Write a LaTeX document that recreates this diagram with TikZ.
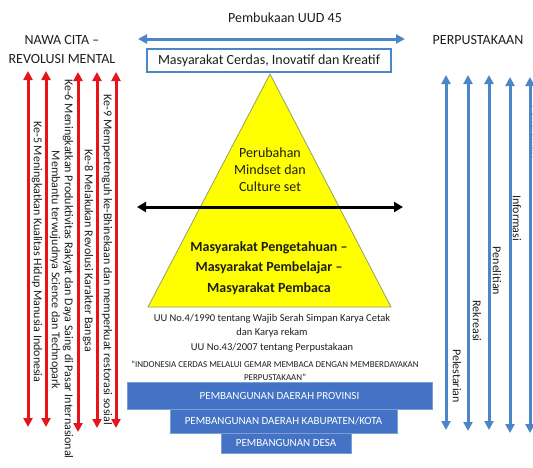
\documentclass[tikz,border=0pt]{standalone}
\usepackage{fontspec}
\setmainfont{Carlito}
\usetikzlibrary{arrows.meta}
\definecolor{redarrow}{RGB}{228,22,27}
\definecolor{bluearrow}{RGB}{74,134,200}
\definecolor{bluebox}{RGB}{68,114,196}
\definecolor{boxedge}{RGB}{120,160,215}
\definecolor{pyramid}{RGB}{255,255,0}
\definecolor{pyramidedge}{RGB}{150,160,100}
\definecolor{ink}{RGB}{30,30,30}
\tikzset{
  redlink/.style={draw=redarrow, line width=3pt, {Triangle[width=9pt,length=9pt]}-{Triangle[width=9pt,length=9pt]}},
  bluelink/.style={draw=bluearrow, line width=3pt, {Triangle[width=9pt,length=9pt]}-{Triangle[width=9pt,length=9pt]}},
  blacklink/.style={draw=black, line width=3pt, {Triangle[width=10pt,length=9pt]}-{Triangle[width=10pt,length=9pt]}},
  vlabel/.style={rotate=-90, font=\fontsize{12}{12}\selectfont, text=ink, inner sep=0pt},
  tier/.style={fill=bluebox, draw=boxedge, line width=0.6pt, text=white, font=\fontsize{11}{11}\selectfont, inner sep=0pt, anchor=north west},
  plain/.style={text=ink, inner sep=0pt},
}
\begin{document}
\begin{tikzpicture}[x=1pt, y=-1pt]
\useasboundingbox (0,0) rectangle (533,467);
\clip (0,0) rectangle (533,467);
\fill[white] (0,0) rectangle (533,467);

% headings
\node[plain, font=\fontsize{14}{14}\selectfont] (nawa1) at (62,40) {NAWA CITA –};
\node[plain, font=\fontsize{14}{14}\selectfont] (nawa2) at (62,59) {REVOLUSI MENTAL};
\node[plain, font=\fontsize{14}{14}\selectfont] (perpus) at (478,40) {PERPUSTAKAAN};
\node[plain, font=\fontsize{14}{14}\selectfont] (uud) at (285,18) {Pembukaan UUD 45};

% top double arrow
\coordinate (topL) at (138,39);
\coordinate (topR) at (405,39);
\draw[bluelink] (topL) -- (topR);

% goal box
\node[draw=bluearrow, line width=1.2pt, fill=white, minimum width=244pt, minimum height=23pt,
      inner sep=0pt, text=ink, font=\fontsize{14}{14}\selectfont] (goal) at (269,60.5)
  {Masyarakat Cerdas, Inovatif dan Kreatif};

% pyramid
\coordinate (apex) at (270,74);
\coordinate (baseL) at (148,307);
\coordinate (baseR) at (391,307);
\draw[fill=pyramid, draw=pyramidedge, line width=0.8pt] (apex) -- (baseL) -- (baseR) -- cycle;

\node[plain, font=\fontsize{14}{17}\selectfont, align=center] (mind) at (270,170)
  {Perubahan\\Mindset dan\\Culture set};
\node[plain, font=\bfseries\fontsize{14}{20.5}\selectfont, align=center] (soc) at (269,268)
  {Masyarakat Pengetahuan –\\Masyarakat Pembelajar –\\Masyarakat Pembaca};

% dividing double arrow
\coordinate (midL) at (137,207);
\coordinate (midR) at (403,207);
\draw[blacklink] (midL) -- (midR);

% legal basis text
\node[plain, font=\fontsize{10.5}{14.5}\selectfont, align=center] (law) at (272,333)
  {UU No.4/1990 tentang Wajib Serah Simpan Karya Cetak\\dan Karya rekam\\UU No.43/2007 tentang Perpustakaan};
\node[plain, font=\fontsize{9}{13}\selectfont, align=center] (motto) at (275,370.5)
  {“INDONESIA CERDAS MELALUI GEMAR MEMBACA DENGAN MEMBERDAYAKAN\\PERPUSTAKAAN”};

% development tiers
\node[tier, minimum width=305pt, minimum height=27pt] (prov) at (127,382) {};
\node[plain, text=white, font=\fontsize{11}{11}\selectfont] (provt) at (279.5,395.5) {PEMBANGUNAN DAERAH PROVINSI};
\node[tier, minimum width=227pt, minimum height=24pt] (kab) at (170,409) {};
\node[plain, text=white, font=\fontsize{11}{11}\selectfont] (kabt) at (283.5,421) {PEMBANGUNAN DAERAH KABUPATEN/KOTA};
\node[tier, minimum width=130pt, minimum height=20pt] (desa) at (221,433) {};
\node[plain, text=white, font=\fontsize{11}{11}\selectfont] (desat) at (286,443) {PEMBANGUNAN DESA};

% Nawa Cita arrows
\coordinate (r1t) at (28,71);  \coordinate (r1b) at (28,427);
\coordinate (r2t) at (46,71);  \coordinate (r2b) at (46,427);
\coordinate (r3t) at (78,72);  \coordinate (r3b) at (78,432);
\coordinate (r4t) at (97,72);  \coordinate (r4b) at (97,428);
\coordinate (r5t) at (116,72); \coordinate (r5b) at (116,428);
\foreach \i in {1,...,5} \draw[redlink] (r\i t) -- (r\i b);

\node[vlabel] (k5) at (37,252) {Ke-5 Meningkatkan Kualitas Hidup Manusia Indonesia};
\node[vlabel] (sci) at (55,270) {Membantu terwujudnya Science dan Technopark};
\node[vlabel] (k6) at (68,269) {Ke-6 Meningkatkan Produktivitas Rakyat dan Daya Saing di Pasar Internasional};
\node[vlabel] (k8) at (88,251) {Ke-8 Melakukan Revolusi Karakter Bangsa};
\node[vlabel] (k9) at (107,260) {Ke-9 Mempertenguh ke-Bhinekaan dan memperkuat restorasi sosial};

% library function arrows
\coordinate (b1t) at (446,75); \coordinate (b1b) at (446,430);
\coordinate (b2t) at (468,75); \coordinate (b2b) at (468,431);
\coordinate (b3t) at (489,75); \coordinate (b3b) at (489,430);
\coordinate (b4t) at (510,77); \coordinate (b4b) at (510,433);
\coordinate (b5t) at (530,77); \coordinate (b5b) at (530,433);
\foreach \i in {1,...,5} \draw[bluelink] (b\i t) -- (b\i b);

\node[vlabel] (pel) at (457,376) {Pelestarian};
\node[vlabel] (rek) at (477,321) {Rekreasi};
\node[vlabel] (pen) at (497,271) {Penelitian};
\node[vlabel] (inf) at (517,218) {Informasi};
\node[vlabel] (pend) at (537,132) {Pendidikan};
\end{tikzpicture}
\end{document}
